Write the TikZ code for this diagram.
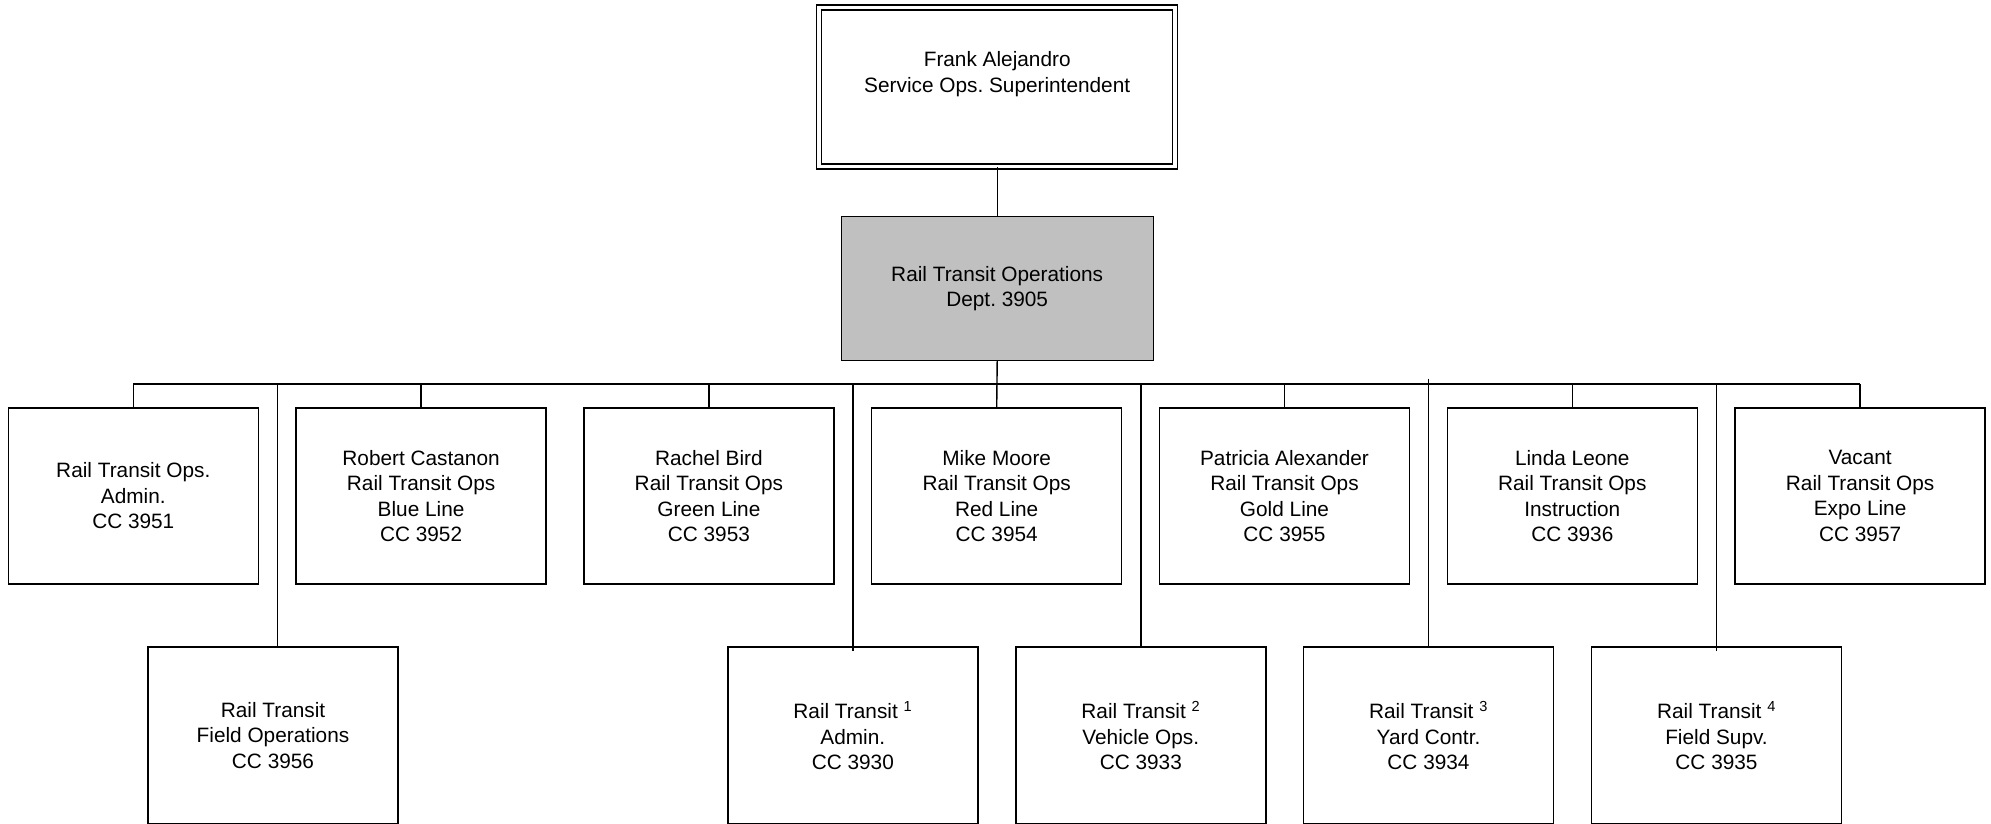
\documentclass[tikz,border=0pt]{standalone}
\usepackage{fontspec}
\setmainfont{Liberation Sans}
\frenchspacing
\definecolor{boxgray}{HTML}{C0C0C0}
\tikzset{
  lbl/.style={align=center, font=\fontsize{20.8}{25.5}\selectfont\frenchspacing, inner sep=0pt},
  orgbox/.style={lbl, draw=black, line width=1.4pt, minimum width=250pt, minimum height=176pt},
  lowbox/.style={orgbox, minimum height=177pt},
  conn/.style={draw=black, line width=1.4pt},
}
\begin{document}
\begin{tikzpicture}[x=1pt,y=-1pt]
\useasboundingbox (0,0) rectangle (1991,823);
\clip (0,0) rectangle (1991,823);
% top
\node[draw=black, line width=1.3pt, double, double distance=3.7pt, minimum width=356pt, minimum height=159pt, inner sep=0pt] (top) at (997.2,87) {};
\node[lbl] (toptxt) at (997.2,74) {Frank Alejandro\\Service Ops. Superintendent};
% department
\node[orgbox, fill=boxgray, minimum width=312pt, minimum height=143.6pt] (dept) at (997.2,288.5) {Rail Transit Operations\\Dept. 3905};
% first row
\node[orgbox] (b1) at (133.3,496) {Rail Transit Ops.\\Admin.\\CC 3951};
\node[orgbox] (b2) at (421.1,496) {Robert Castanon\\Rail Transit Ops\\Blue Line\\CC 3952};
\node[orgbox] (b3) at (708.9,496) {Rachel Bird\\Rail Transit Ops\\Green Line\\CC 3953};
\node[orgbox] (b4) at (996.7,496) {Mike Moore\\Rail Transit Ops\\Red Line\\CC 3954};
\node[orgbox] (b5) at (1284.5,496) {Patricia Alexander\\Rail Transit Ops\\Gold Line\\CC 3955};
\node[orgbox] (b6) at (1572.3,496) {Linda Leone\\Rail Transit Ops\\Instruction\\CC 3936};
\node[orgbox] (b7) at (1860.1,496) {Vacant\\Rail Transit Ops\\Expo Line\\CC 3957};
% second row
\node[lowbox] (la) at (273,735.5) {Rail Transit\\Field Operations\\CC 3956};
\node[lowbox] (lb) at (852.8,735.5) {Rail Transit \textsuperscript{1}\\Admin.\\CC 3930};
\node[lowbox] (lc) at (1140.8,735.5) {Rail Transit \textsuperscript{2}\\Vehicle Ops.\\CC 3933};
\node[lowbox] (ld) at (1428.5,735.5) {Rail Transit \textsuperscript{3}\\Yard Contr.\\CC 3934};
\node[lowbox] (le) at (1716.5,735.5) {Rail Transit \textsuperscript{4}\\Field Supv.\\CC 3935};
% bus
\coordinate (busL) at (133.3,384);
\coordinate (busR) at (1860.1,384);
\coordinate (v1) at (277.2,384);
\coordinate (v2) at (852.8,384);
\coordinate (v3) at (1140.8,384);
\coordinate (v4) at (1428.5,378.5);
\coordinate (v5) at (1716.5,384);
\draw[conn] (top.south) -- (dept.north);
\draw[conn] (dept.south) -- (b4.north);
\draw[conn] (busL) -- (busR);
\foreach \b in {b1,b2,b3,b5,b6,b7} {\draw[conn] (\b.north |- busL) -- (\b.north);}
\draw[conn] (v1) -- (v1 |- la.north);
\draw[conn] (v2) -- ([yshift=-5pt]v2 |- lb.north);
\draw[conn] (v3) -- (v3 |- lc.north);
\draw[conn] (v4) -- (v4 |- ld.north);
\draw[conn] (v5) -- ([yshift=-5pt]v5 |- le.north);
\end{tikzpicture}
\end{document}
